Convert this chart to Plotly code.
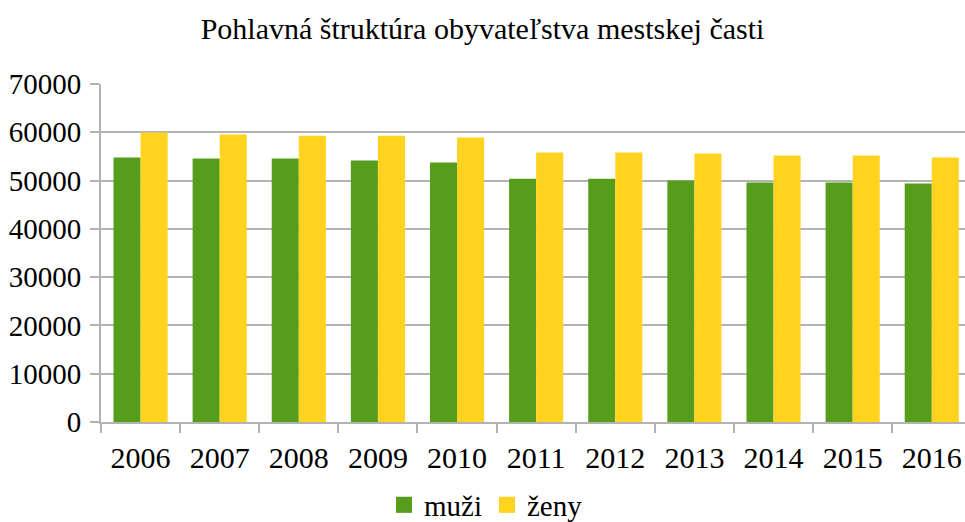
import plotly.graph_objects as go

years = ["2006", "2007", "2008", "2009", "2010", "2011", "2012", "2013", "2014", "2015", "2016"]
muzi = [54760, 54550, 54550, 54140, 53730, 50400, 50400, 50000, 49600, 49600, 49400]
zeny = [59940, 59520, 59300, 59300, 58900, 55800, 55800, 55600, 55200, 55200, 54760]
series_names = ["muži", "ženy"]

GREEN = "#579D1C"
YELLOW = "#FFD320"
GRID = "#b3b3b3"
FONT = "'Liberation Serif', 'DejaVu Serif', serif"

fig = go.Figure()
for name, vals, col in zip(series_names, [muzi, zeny], [GREEN, YELLOW]):
    fig.add_trace(go.Bar(x=years, y=vals, name=name, showlegend=False,
                         marker=dict(color=col, line=dict(width=0))))
# legend entries with larger square swatches
for name, col in zip(series_names, [GREEN, YELLOW]):
    fig.add_trace(go.Scatter(x=[None], y=[None], mode="markers", name=name,
                             marker=dict(symbol="square", size=18, color=col, line=dict(width=0))))

fig.update_layout(
    width=965, height=522,
    margin=dict(l=101, r=0, t=84, b=100),
    paper_bgcolor="white", plot_bgcolor="white",
    font=dict(family=FONT, color="black", size=29),
    title=dict(text="Pohlavná štruktúra obyvateľstva mestskej časti", x=0.5, xanchor="center",
               y=1 - 28 / 522, yanchor="middle", font=dict(family=FONT, size=30, color="black")),
    barmode="group", bargap=0.316, bargroupgap=0,
    showlegend=True,
    legend=dict(orientation="h", xref="container", x=486 / 965, xanchor="center",
                yref="container", y=1 - 505 / 522,
                yanchor="middle", font=dict(family=FONT, size=29, color="black"),
                itemwidth=30, traceorder="normal", tracegroupgap=0),
    xaxis=dict(type="category", range=[-0.5, 10.42], showline=True, linecolor=GRID, linewidth=2,
               ticks="outside", tickson="boundaries", ticklen=9, tickcolor=GRID, tickwidth=2,
               ticklabelstandoff=8,
               showgrid=False, tickfont=dict(family=FONT, size=30, color="black")),
    yaxis=dict(range=[0, 70000], dtick=10000, showline=True, linecolor=GRID, linewidth=2,
               ticks="outside", ticklen=9, tickcolor=GRID, tickwidth=2, ticklabelstandoff=3,
               showgrid=True, gridcolor=GRID, gridwidth=2, zeroline=False,
               tickformat="d", tickfont=dict(family=FONT, size=29, color="black")),
)

fig.write_html("out.html", config={"displayModeBar": False},
               post_script="document.body.style.margin='0';")
